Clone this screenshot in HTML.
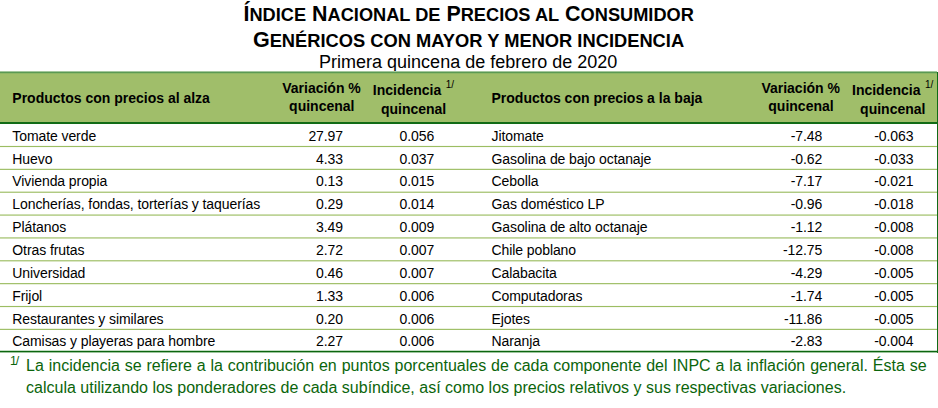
<!DOCTYPE html><html><head><meta charset="utf-8"><style>
html,body{margin:0;padding:0;background:#fff;}
body{width:938px;height:408px;position:relative;overflow:hidden;font-family:"Liberation Sans", sans-serif;}
.ln{position:absolute;left:0;}
</style></head><body>
<div style="position:absolute;left:168.70px;width:600px;text-align:center;top:3.76px;font-size:21.43px;line-height:21.43px;font-weight:bold;color:#000;white-space:nowrap;">Í<span style="font-size:0.85em">NDICE</span> N<span style="font-size:0.85em">ACIONAL DE</span> P<span style="font-size:0.85em">RECIOS AL</span> C<span style="font-size:0.85em">ONSUMIDOR</span></div>
<div style="position:absolute;left:168.50px;width:600px;text-align:center;top:29.36px;font-size:21.55px;line-height:21.55px;font-weight:bold;color:#000;white-space:nowrap;">G<span style="font-size:0.85em">ENÉRICOS CON MAYOR Y MENOR INCIDENCIA</span></div>
<div style="position:absolute;left:168.20px;width:600px;text-align:center;top:52.66px;font-size:18px;line-height:18px;font-weight:normal;color:#000;white-space:nowrap;">Primera quincena de febrero de 2020</div>
<div class="ln" style="top:71px;width:937px;height:51px;background:#a0be6a;"></div>
<div class="ln" style="top:71px;width:937px;height:1px;background:#a3c79c;"></div>
<div class="ln" style="top:72px;width:937px;height:1px;background:#5b9954;"></div>
<div class="ln" style="top:73px;width:937px;height:1px;background:#8db765;"></div>
<div class="ln" style="top:122px;width:938px;height:2px;background:#116b16;"></div>
<svg style="position:absolute;left:0;top:0" width="938" height="408"><rect x="0" y="145.92" width="938" height="1.15" fill="#9cbd62"/><rect x="0" y="168.78" width="938" height="1.15" fill="#9cbd62"/><rect x="0" y="191.64" width="938" height="1.15" fill="#9cbd62"/><rect x="0" y="214.50" width="938" height="1.15" fill="#9cbd62"/><rect x="0" y="237.36" width="938" height="1.15" fill="#9cbd62"/><rect x="0" y="260.22" width="938" height="1.15" fill="#9cbd62"/><rect x="0" y="283.08" width="938" height="1.15" fill="#9cbd62"/><rect x="0" y="305.94" width="938" height="1.15" fill="#9cbd62"/><rect x="0" y="328.80" width="938" height="1.15" fill="#9cbd62"/></svg>
<div class="ln" style="top:350px;width:938px;height:1px;background:#c2dcc2;"></div>
<div class="ln" style="top:351px;width:938px;height:1px;background:#0b650f;"></div>
<div class="ln" style="top:352px;width:938px;height:1px;background:#9cc59c;"></div>
<div style="position:absolute;left:937px;top:72px;width:1px;height:281px;background:#116b16;"></div>
<div style="position:absolute;left:12.30px;top:90.75px;font-size:14px;line-height:14px;font-weight:bold;color:#000;white-space:nowrap;">Productos con precios al alza</div>
<div style="position:absolute;left:21.50px;width:600px;text-align:center;top:81.05px;font-size:14px;line-height:14px;font-weight:bold;color:#000;white-space:nowrap;">Variación %</div>
<div style="position:absolute;left:21.80px;width:600px;text-align:center;top:99.35px;font-size:14px;line-height:14px;font-weight:bold;color:#000;white-space:nowrap;">quincenal</div>
<div style="position:absolute;left:372.80px;top:83.15px;font-size:14px;line-height:14px;font-weight:bold;color:#000;white-space:nowrap;">Incidencia</div>
<div style="position:absolute;left:445.80px;top:80.33px;font-size:10px;line-height:10px;font-weight:normal;color:#000;white-space:nowrap;">1/</div>
<div style="position:absolute;left:113.60px;width:600px;text-align:center;top:101.55px;font-size:14px;line-height:14px;font-weight:bold;color:#000;white-space:nowrap;">quincenal</div>
<div style="position:absolute;left:491.50px;top:90.75px;font-size:14px;line-height:14px;font-weight:bold;color:#000;white-space:nowrap;">Productos con precios a la baja</div>
<div style="position:absolute;left:500.70px;width:600px;text-align:center;top:81.05px;font-size:14px;line-height:14px;font-weight:bold;color:#000;white-space:nowrap;">Variación %</div>
<div style="position:absolute;left:501.00px;width:600px;text-align:center;top:99.35px;font-size:14px;line-height:14px;font-weight:bold;color:#000;white-space:nowrap;">quincenal</div>
<div style="position:absolute;left:852.00px;top:83.15px;font-size:14px;line-height:14px;font-weight:bold;color:#000;white-space:nowrap;">Incidencia</div>
<div style="position:absolute;left:925.00px;top:80.33px;font-size:10px;line-height:10px;font-weight:normal;color:#000;white-space:nowrap;">1/</div>
<div style="position:absolute;left:592.80px;width:600px;text-align:center;top:101.55px;font-size:14px;line-height:14px;font-weight:bold;color:#000;white-space:nowrap;">quincenal</div>
<div style="position:absolute;left:12.30px;top:129.15px;font-size:14px;line-height:14px;font-weight:normal;color:#000;white-space:nowrap;letter-spacing:-0.085px;">Tomate verde</div>
<div style="position:absolute;right:595.00px;top:129.15px;font-size:14px;line-height:14px;font-weight:normal;color:#000;white-space:nowrap;letter-spacing:-0.085px;">27.97</div>
<div style="position:absolute;right:503.80px;top:129.15px;font-size:14px;line-height:14px;font-weight:normal;color:#000;white-space:nowrap;letter-spacing:-0.085px;">0.056</div>
<div style="position:absolute;left:12.30px;top:152.15px;font-size:14px;line-height:14px;font-weight:normal;color:#000;white-space:nowrap;letter-spacing:-0.085px;">Huevo</div>
<div style="position:absolute;right:595.00px;top:152.15px;font-size:14px;line-height:14px;font-weight:normal;color:#000;white-space:nowrap;letter-spacing:-0.085px;">4.33</div>
<div style="position:absolute;right:503.80px;top:152.15px;font-size:14px;line-height:14px;font-weight:normal;color:#000;white-space:nowrap;letter-spacing:-0.085px;">0.037</div>
<div style="position:absolute;left:12.30px;top:174.15px;font-size:14px;line-height:14px;font-weight:normal;color:#000;white-space:nowrap;letter-spacing:-0.085px;">Vivienda propia</div>
<div style="position:absolute;right:595.00px;top:174.15px;font-size:14px;line-height:14px;font-weight:normal;color:#000;white-space:nowrap;letter-spacing:-0.085px;">0.13</div>
<div style="position:absolute;right:503.80px;top:174.15px;font-size:14px;line-height:14px;font-weight:normal;color:#000;white-space:nowrap;letter-spacing:-0.085px;">0.015</div>
<div style="position:absolute;left:12.30px;top:197.15px;font-size:14px;line-height:14px;font-weight:normal;color:#000;white-space:nowrap;letter-spacing:-0.085px;">Loncherías, fondas, torterías y taquerías</div>
<div style="position:absolute;right:595.00px;top:197.15px;font-size:14px;line-height:14px;font-weight:normal;color:#000;white-space:nowrap;letter-spacing:-0.085px;">0.29</div>
<div style="position:absolute;right:503.80px;top:197.15px;font-size:14px;line-height:14px;font-weight:normal;color:#000;white-space:nowrap;letter-spacing:-0.085px;">0.014</div>
<div style="position:absolute;left:12.30px;top:220.15px;font-size:14px;line-height:14px;font-weight:normal;color:#000;white-space:nowrap;letter-spacing:-0.085px;">Plátanos</div>
<div style="position:absolute;right:595.00px;top:220.15px;font-size:14px;line-height:14px;font-weight:normal;color:#000;white-space:nowrap;letter-spacing:-0.085px;">3.49</div>
<div style="position:absolute;right:503.80px;top:220.15px;font-size:14px;line-height:14px;font-weight:normal;color:#000;white-space:nowrap;letter-spacing:-0.085px;">0.009</div>
<div style="position:absolute;left:12.30px;top:243.15px;font-size:14px;line-height:14px;font-weight:normal;color:#000;white-space:nowrap;letter-spacing:-0.085px;">Otras frutas</div>
<div style="position:absolute;right:595.00px;top:243.15px;font-size:14px;line-height:14px;font-weight:normal;color:#000;white-space:nowrap;letter-spacing:-0.085px;">2.72</div>
<div style="position:absolute;right:503.80px;top:243.15px;font-size:14px;line-height:14px;font-weight:normal;color:#000;white-space:nowrap;letter-spacing:-0.085px;">0.007</div>
<div style="position:absolute;left:12.30px;top:266.15px;font-size:14px;line-height:14px;font-weight:normal;color:#000;white-space:nowrap;letter-spacing:-0.085px;">Universidad</div>
<div style="position:absolute;right:595.00px;top:266.15px;font-size:14px;line-height:14px;font-weight:normal;color:#000;white-space:nowrap;letter-spacing:-0.085px;">0.46</div>
<div style="position:absolute;right:503.80px;top:266.15px;font-size:14px;line-height:14px;font-weight:normal;color:#000;white-space:nowrap;letter-spacing:-0.085px;">0.007</div>
<div style="position:absolute;left:12.30px;top:289.15px;font-size:14px;line-height:14px;font-weight:normal;color:#000;white-space:nowrap;letter-spacing:-0.085px;">Frijol</div>
<div style="position:absolute;right:595.00px;top:289.15px;font-size:14px;line-height:14px;font-weight:normal;color:#000;white-space:nowrap;letter-spacing:-0.085px;">1.33</div>
<div style="position:absolute;right:503.80px;top:289.15px;font-size:14px;line-height:14px;font-weight:normal;color:#000;white-space:nowrap;letter-spacing:-0.085px;">0.006</div>
<div style="position:absolute;left:12.30px;top:312.15px;font-size:14px;line-height:14px;font-weight:normal;color:#000;white-space:nowrap;letter-spacing:-0.085px;">Restaurantes y similares</div>
<div style="position:absolute;right:595.00px;top:312.15px;font-size:14px;line-height:14px;font-weight:normal;color:#000;white-space:nowrap;letter-spacing:-0.085px;">0.20</div>
<div style="position:absolute;right:503.80px;top:312.15px;font-size:14px;line-height:14px;font-weight:normal;color:#000;white-space:nowrap;letter-spacing:-0.085px;">0.006</div>
<div style="position:absolute;left:12.30px;top:334.15px;font-size:14px;line-height:14px;font-weight:normal;color:#000;white-space:nowrap;letter-spacing:-0.085px;">Camisas y playeras para hombre</div>
<div style="position:absolute;right:595.00px;top:334.15px;font-size:14px;line-height:14px;font-weight:normal;color:#000;white-space:nowrap;letter-spacing:-0.085px;">2.27</div>
<div style="position:absolute;right:503.80px;top:334.15px;font-size:14px;line-height:14px;font-weight:normal;color:#000;white-space:nowrap;letter-spacing:-0.085px;">0.006</div>
<div style="position:absolute;left:491.50px;top:129.15px;font-size:14px;line-height:14px;font-weight:normal;color:#000;white-space:nowrap;letter-spacing:-0.085px;">Jitomate</div>
<div style="position:absolute;right:115.80px;top:129.15px;font-size:14px;line-height:14px;font-weight:normal;color:#000;white-space:nowrap;letter-spacing:-0.085px;">-7.48</div>
<div style="position:absolute;right:24.60px;top:129.15px;font-size:14px;line-height:14px;font-weight:normal;color:#000;white-space:nowrap;letter-spacing:-0.085px;">-0.063</div>
<div style="position:absolute;left:491.50px;top:152.15px;font-size:14px;line-height:14px;font-weight:normal;color:#000;white-space:nowrap;letter-spacing:-0.085px;">Gasolina de bajo octanaje</div>
<div style="position:absolute;right:115.80px;top:152.15px;font-size:14px;line-height:14px;font-weight:normal;color:#000;white-space:nowrap;letter-spacing:-0.085px;">-0.62</div>
<div style="position:absolute;right:24.60px;top:152.15px;font-size:14px;line-height:14px;font-weight:normal;color:#000;white-space:nowrap;letter-spacing:-0.085px;">-0.033</div>
<div style="position:absolute;left:491.50px;top:174.15px;font-size:14px;line-height:14px;font-weight:normal;color:#000;white-space:nowrap;letter-spacing:-0.085px;">Cebolla</div>
<div style="position:absolute;right:115.80px;top:174.15px;font-size:14px;line-height:14px;font-weight:normal;color:#000;white-space:nowrap;letter-spacing:-0.085px;">-7.17</div>
<div style="position:absolute;right:24.60px;top:174.15px;font-size:14px;line-height:14px;font-weight:normal;color:#000;white-space:nowrap;letter-spacing:-0.085px;">-0.021</div>
<div style="position:absolute;left:491.50px;top:197.15px;font-size:14px;line-height:14px;font-weight:normal;color:#000;white-space:nowrap;letter-spacing:-0.085px;">Gas doméstico LP</div>
<div style="position:absolute;right:115.80px;top:197.15px;font-size:14px;line-height:14px;font-weight:normal;color:#000;white-space:nowrap;letter-spacing:-0.085px;">-0.96</div>
<div style="position:absolute;right:24.60px;top:197.15px;font-size:14px;line-height:14px;font-weight:normal;color:#000;white-space:nowrap;letter-spacing:-0.085px;">-0.018</div>
<div style="position:absolute;left:491.50px;top:220.15px;font-size:14px;line-height:14px;font-weight:normal;color:#000;white-space:nowrap;letter-spacing:-0.085px;">Gasolina de alto octanaje</div>
<div style="position:absolute;right:115.80px;top:220.15px;font-size:14px;line-height:14px;font-weight:normal;color:#000;white-space:nowrap;letter-spacing:-0.085px;">-1.12</div>
<div style="position:absolute;right:24.60px;top:220.15px;font-size:14px;line-height:14px;font-weight:normal;color:#000;white-space:nowrap;letter-spacing:-0.085px;">-0.008</div>
<div style="position:absolute;left:491.50px;top:243.15px;font-size:14px;line-height:14px;font-weight:normal;color:#000;white-space:nowrap;letter-spacing:-0.085px;">Chile poblano</div>
<div style="position:absolute;right:115.80px;top:243.15px;font-size:14px;line-height:14px;font-weight:normal;color:#000;white-space:nowrap;letter-spacing:-0.085px;">-12.75</div>
<div style="position:absolute;right:24.60px;top:243.15px;font-size:14px;line-height:14px;font-weight:normal;color:#000;white-space:nowrap;letter-spacing:-0.085px;">-0.008</div>
<div style="position:absolute;left:491.50px;top:266.15px;font-size:14px;line-height:14px;font-weight:normal;color:#000;white-space:nowrap;letter-spacing:-0.085px;">Calabacita</div>
<div style="position:absolute;right:115.80px;top:266.15px;font-size:14px;line-height:14px;font-weight:normal;color:#000;white-space:nowrap;letter-spacing:-0.085px;">-4.29</div>
<div style="position:absolute;right:24.60px;top:266.15px;font-size:14px;line-height:14px;font-weight:normal;color:#000;white-space:nowrap;letter-spacing:-0.085px;">-0.005</div>
<div style="position:absolute;left:491.50px;top:289.15px;font-size:14px;line-height:14px;font-weight:normal;color:#000;white-space:nowrap;letter-spacing:-0.085px;">Computadoras</div>
<div style="position:absolute;right:115.80px;top:289.15px;font-size:14px;line-height:14px;font-weight:normal;color:#000;white-space:nowrap;letter-spacing:-0.085px;">-1.74</div>
<div style="position:absolute;right:24.60px;top:289.15px;font-size:14px;line-height:14px;font-weight:normal;color:#000;white-space:nowrap;letter-spacing:-0.085px;">-0.005</div>
<div style="position:absolute;left:491.50px;top:312.15px;font-size:14px;line-height:14px;font-weight:normal;color:#000;white-space:nowrap;letter-spacing:-0.085px;">Ejotes</div>
<div style="position:absolute;right:115.80px;top:312.15px;font-size:14px;line-height:14px;font-weight:normal;color:#000;white-space:nowrap;letter-spacing:-0.085px;">-11.86</div>
<div style="position:absolute;right:24.60px;top:312.15px;font-size:14px;line-height:14px;font-weight:normal;color:#000;white-space:nowrap;letter-spacing:-0.085px;">-0.005</div>
<div style="position:absolute;left:491.50px;top:334.15px;font-size:14px;line-height:14px;font-weight:normal;color:#000;white-space:nowrap;letter-spacing:-0.085px;">Naranja</div>
<div style="position:absolute;right:115.80px;top:334.15px;font-size:14px;line-height:14px;font-weight:normal;color:#000;white-space:nowrap;letter-spacing:-0.085px;">-2.83</div>
<div style="position:absolute;right:24.60px;top:334.15px;font-size:14px;line-height:14px;font-weight:normal;color:#000;white-space:nowrap;letter-spacing:-0.085px;">-0.004</div>
<div style="position:absolute;left:9.90px;top:354.60px;font-size:12.4px;line-height:12.4px;font-weight:normal;color:#0b650b;white-space:nowrap;letter-spacing:-1px;">1/</div>
<div style="position:absolute;left:26.1px;top:354.7px;width:900.5px;font-size:16px;line-height:22px;color:#0b650b;text-align:justify;">La incidencia se refiere a la contribución en puntos porcentuales de cada componente del INPC a la inflación general. Ésta se calcula utilizando los ponderadores de cada subíndice, así como los precios relativos y sus respectivas variaciones.</div>
</body></html>
